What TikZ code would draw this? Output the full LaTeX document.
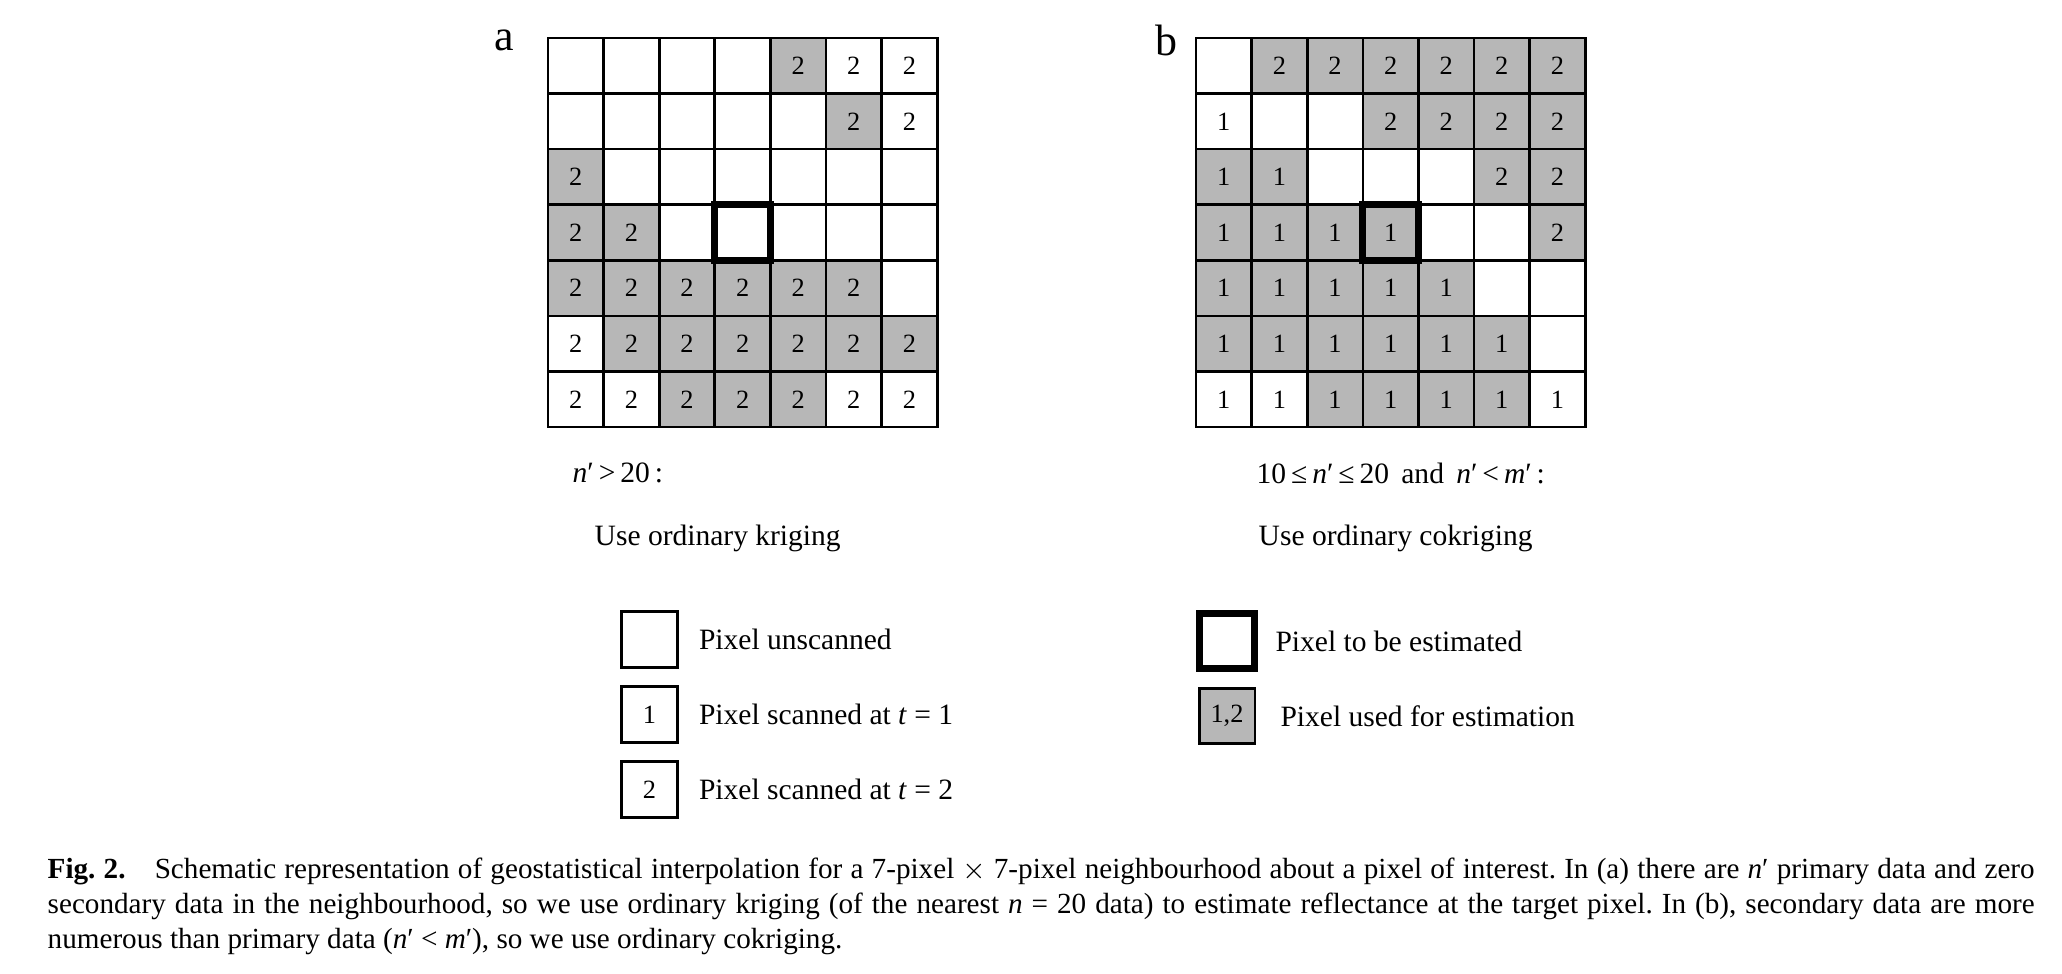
\documentclass[tikz,border=0pt]{standalone}
\usepackage{fontspec}
\setmainfont{Liberation Serif}
\usetikzlibrary{positioning}
\definecolor{UsedGray}{RGB}{183,183,183}
\frenchspacing

\begin{document}
\begin{tikzpicture}[
    pixel/.style={rectangle, draw=black, line width=0.75pt, minimum size=0.556cm,
                  inner sep=0pt, outer sep=0pt, font=\fontsize{7.5}{8}\selectfont},
    wt/.style={fill=white},
    gr/.style={fill=UsedGray},
    target/.style={draw=black, line width=1.9pt},
    legendtext/.style={anchor=west, inner sep=0pt, font=\fontsize{8.4}{10}\selectfont},
    panel/.style={font=\fontsize{12.5}{14}\selectfont}
]
\useasboundingbox (0,0) rectangle (20.62,9.74);

% Panel labels
\node[panel] (la) at (5.04,9.34) {a};
\node[panel] (lb) at (11.66,9.34) {b};

% Grid a: only secondary data
\foreach \row [count=\j] in {
    {wt/{},wt/{},wt/{},wt/{},gr/2,wt/2,wt/2},
    {wt/{},wt/{},wt/{},wt/{},wt/{},gr/2,wt/2},
    {gr/2,wt/{},wt/{},wt/{},wt/{},wt/{},wt/{}},
    {gr/2,gr/2,wt/{},wt/{},wt/{},wt/{},wt/{}},
    {gr/2,gr/2,gr/2,gr/2,gr/2,gr/2,wt/{}},
    {wt/2,gr/2,gr/2,gr/2,gr/2,gr/2,gr/2},
    {wt/2,wt/2,gr/2,gr/2,gr/2,wt/2,wt/2}} {
  \foreach \s/\v [count=\i] in \row {
    \node[pixel, \s] (a-\i-\j) at ({5.48+(\i-0.5)*0.556}, {9.36-(\j-0.5)*0.556}) {\v};
  }
}
\draw[target] (a-4-4.south west) rectangle (a-4-4.north east);

% Grid b: primary and secondary data
\foreach \row [count=\j] in {
    {wt/{},gr/2,gr/2,gr/2,gr/2,gr/2,gr/2},
    {wt/1,wt/{},wt/{},gr/2,gr/2,gr/2,gr/2},
    {gr/1,gr/1,wt/{},wt/{},wt/{},gr/2,gr/2},
    {gr/1,gr/1,gr/1,gr/1,wt/{},wt/{},gr/2},
    {gr/1,gr/1,gr/1,gr/1,gr/1,wt/{},wt/{}},
    {gr/1,gr/1,gr/1,gr/1,gr/1,gr/1,wt/{}},
    {wt/1,wt/1,gr/1,gr/1,gr/1,gr/1,wt/1}} {
  \foreach \s/\v [count=\i] in \row {
    \node[pixel, \s] (b-\i-\j) at ({11.96+(\i-0.5)*0.556}, {9.36-(\j-0.5)*0.556}) {\v};
  }
}
\draw[target] (b-4-4.south west) rectangle (b-4-4.north east);

% Conditions
\node[legendtext] (conda) at (5.72,5.01) {\textit{n}′\,>\,20\,:};
\node[legendtext] (krig) at (5.94,4.36) {Use ordinary kriging};
\node[legendtext] (condb) at (12.56,5.01) {10\,≤\,\textit{n}′\,≤\,20\, and\, \textit{n}′\,<\,\textit{m}′\,:};
\node[legendtext] (cokrig) at (12.58,4.36) {Use ordinary cokriging};

% Legend
\node[pixel, wt] (unscanned) at (6.495,3.345) {};
\node[legendtext, right=0.21cm of unscanned] (unscannedtext) {Pixel unscanned};
\node[pixel, wt, below=0.194cm of unscanned] (scanned1) {1};
\node[legendtext, right=0.21cm of scanned1] (scanned1text) {Pixel scanned at \textit{t} = 1};
\node[pixel, wt, below=0.194cm of scanned1] (scanned2) {2};
\node[legendtext, right=0.21cm of scanned2] (scanned2text) {Pixel scanned at \textit{t} = 2};

\node[pixel, wt, target] (estimated) at (12.27,3.33) {};
\node[legendtext, right=0.2cm of estimated] (estimatedtext) {Pixel to be estimated};
\node[pixel, gr, below=0.194cm of estimated] (used) {1,2};
\node[legendtext, right=0.25cm of used] (usedtext) {Pixel used for estimation};

% Caption
\node[anchor=north west, text width=19.87cm, align=justify, inner sep=0pt,
      font=\fontsize{8.3}{10}\selectfont] (caption) at (0.47,1.17)
  {\textbf{Fig. 2.}\quad Schematic representation of geostatistical interpolation for a 7-pixel $\times$ 7-pixel neighbourhood about a pixel of interest. In (a) there are \textit{n}′ primary data and zero\linebreak
   secondary data in the neighbourhood, so we use ordinary kriging (of the nearest \textit{n} = 20 data) to estimate reflectance at the target pixel. In (b), secondary data are more\linebreak
   numerous than primary data (\textit{n}′ < \textit{m}′), so we use ordinary cokriging.};

\end{tikzpicture}
\end{document}
